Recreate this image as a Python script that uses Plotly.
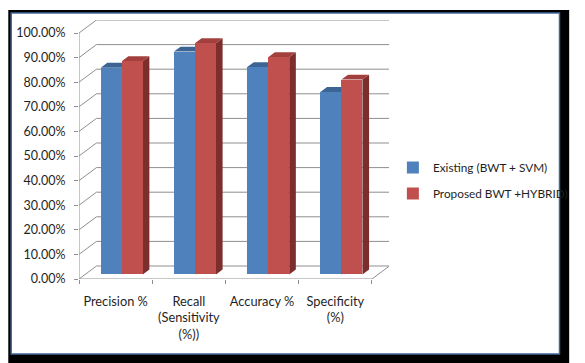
import plotly.graph_objects as go

# ---- data -------------------------------------------------------------
categories = ["Precision %", "Recall<br>(Sensitivity<br>(%))", "Accuracy %", "Specificity<br>(%)"]
existing = [0.840, 0.906, 0.843, 0.742]
proposed = [0.867, 0.940, 0.883, 0.792]
series_names = ["Existing (BWT + SVM)", "Proposed BWT +HYBRID)"]
y_ticks = [0.0, 0.1, 0.2, 0.3, 0.4, 0.5, 0.6, 0.7, 0.8, 0.9, 1.0]

# ---- layout geometry (pixels) ----------------------------------------
FIG_W, FIG_H = 585, 363
M_L, M_R, M_T, M_B = 79, 186, 20, 84
PLOT_W = FIG_W - M_L - M_R
PLOT_H = FIG_H - M_T - M_B
CAT_PX = 75.6          # width of one category on the front plane
PCT_PX = 246.0         # height of 100 % on the value axis
WALL_DX, WALL_DY = 18.0, 13.0   # depth of the 3-D box in pixels

x_max = PLOT_W / CAT_PX
y_max = PLOT_H / PCT_PX
wx, wy = WALL_DX / CAT_PX, WALL_DY / PCT_PX
n_cat = len(categories)

# bars sit between these depth fractions of the box
d0, d1 = 0.35, 0.73
fx, fy = d0 * wx, d0 * wy                 # front plane of the bars
bx, by = (d1 - d0) * wx, (d1 - d0) * wy   # bar depth
bar_w = 0.287

FONT = "Lato"
TXT = "#1f1f1f"
GRID = "#8f8f8f"

styles = [
    dict(front="#4f81bd", top="#3c6494", side="#2f4f78"),
    dict(front="#c0504d", top="#a3403d", side="#7b2e2c"),
]

fig = go.Figure()

# ---- walls, gridlines, floor -----------------------------------------
gx, gy = [], []
for t in y_ticks:
    gx += [0, wx, n_cat + wx, None]
    gy += [t, t + wy, t + wy, None]
# front value-axis line
gx += [0, 0, None]
gy += [0, y_ticks[-1], None]
# floor front edge and right edge
gx += [0, n_cat, n_cat + wx, None]
gy += [0, 0, wy, None]
fig.add_trace(go.Scatter(x=gx, y=gy, mode="lines", line=dict(color=GRID, width=1),
                         hoverinfo="skip", showlegend=False, xaxis="x", yaxis="y"))

# ---- bar side and top faces (drawn beneath the front faces) ----------
for s, vals in enumerate([existing, proposed]):
    sx, sy, tx, ty = [], [], [], []
    for i, v in enumerate(vals):
        xl = i + 0.5 + fx + (s - 1) * bar_w
        xr = xl + bar_w
        y0 = fy
        yt = fy + v
        sx += [xr, xr + bx, xr + bx, xr, xr, None]
        sy += [y0, y0 + by, yt + by, yt, y0, None]
        tx += [xl, xl + bx, xr + bx, xr, xl, None]
        ty += [yt, yt + by, yt + by, yt, yt, None]
    fig.add_trace(go.Scatter(x=sx, y=sy, mode="lines", fill="toself",
                             fillcolor=styles[s]["side"], line=dict(width=0),
                             hoverinfo="skip", showlegend=False, xaxis="x", yaxis="y"))
    fig.add_trace(go.Scatter(x=tx, y=ty, mode="lines", fill="toself",
                             fillcolor=styles[s]["top"], line=dict(width=0),
                             hoverinfo="skip", showlegend=False, xaxis="x", yaxis="y"))

# ---- bar front faces (overlay axes so they paint above the faces) ----
for s, vals in enumerate([existing, proposed]):
    centers = [i + 0.5 + fx + (s - 0.5) * bar_w for i in range(n_cat)]
    fig.add_trace(go.Bar(x=centers, y=vals, base=[fy] * n_cat, width=bar_w,
                         name=series_names[s], legendgroup=f"g{s}",
                         marker=dict(color=styles[s]["front"], line=dict(width=0)),
                         xaxis="x2", yaxis="y2"))


def px_x(p):
    return (p - M_L) / PLOT_W


def px_y(p):
    return (FIG_H - M_B - p) / PLOT_H


fig.update_layout(
    width=FIG_W, height=FIG_H,
    margin=dict(l=M_L, r=M_R, t=M_T, b=M_B, pad=0),
    paper_bgcolor="white", plot_bgcolor="white",
    barmode="overlay", bargap=0,
    font=dict(family=FONT, size=12.5, color=TXT),
    xaxis=dict(range=[0, x_max], showgrid=False, zeroline=False, showline=False,
               tickmode="array", tickvals=[i + 0.5 for i in range(n_cat)],
               ticktext=categories, ticks="", ticklabelstandoff=13,
               tickfont=dict(size=12.8),
               minor=dict(tickmode="array", tickvals=list(range(n_cat + 1)),
                          ticks="outside", ticklen=4, tickcolor=GRID, tickwidth=1),
               fixedrange=True),
    yaxis=dict(range=[0, y_max], showgrid=False, zeroline=False, showline=False,
               tickmode="array", tickvals=y_ticks, tickformat=".2%",
               ticks="outside", ticklen=4, tickcolor=GRID, tickwidth=1,
               ticklabelstandoff=6, fixedrange=True),
    xaxis2=dict(range=[0, x_max], overlaying="x", visible=False, fixedrange=True),
    yaxis2=dict(range=[0, y_max], overlaying="y", visible=False, fixedrange=True),
    legend=dict(x=px_x(403), y=px_y(180.5), xanchor="left", yanchor="middle",
                bgcolor="rgba(0,0,0,0)", borderwidth=0, tracegroupgap=7,
                font=dict(family=FONT, size=11.8, color=TXT)),
    shapes=[
        dict(type="rect", xref="paper", yref="paper", layer="below",
             x0=px_x(6), x1=px_x(585), y0=px_y(10), y1=px_y(363),
             fillcolor="black", line=dict(width=0)),
        dict(type="rect", xref="paper", yref="paper", layer="below",
             x0=px_x(9), x1=px_x(575), y0=px_y(13), y1=px_y(354),
             fillcolor="white", line=dict(color="#41689c", width=1.5)),
    ],
)

fig.write_html("out.html")
